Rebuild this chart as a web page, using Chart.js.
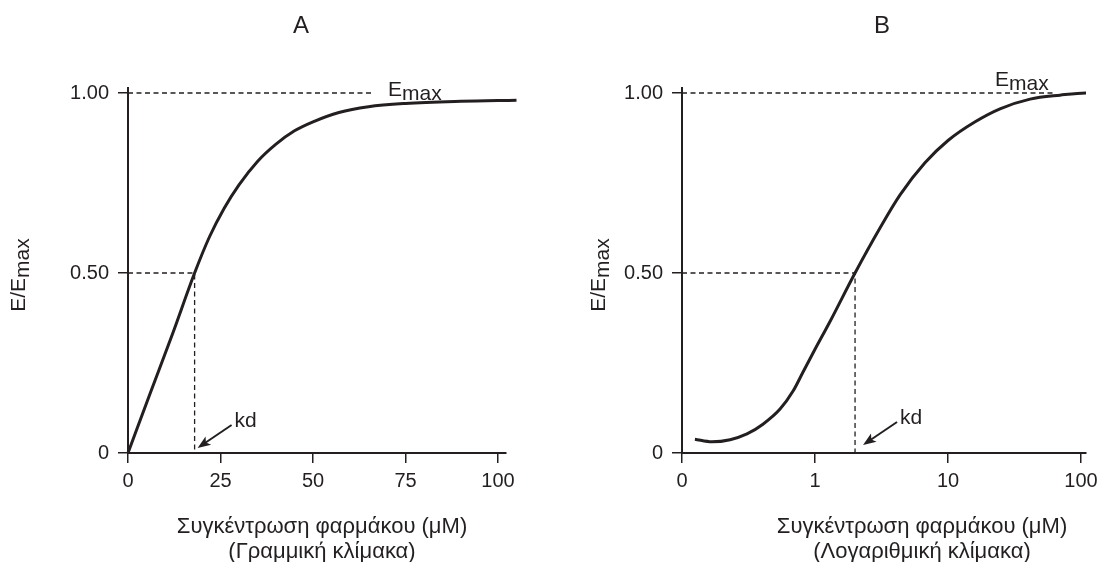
<!DOCTYPE html>
<html>
<head>
<meta charset="utf-8">
<title>E/Emax</title>
<script src="https://cdn.jsdelivr.net/npm/chart.js@4/dist/chart.umd.min.js"></script>
<style>
  html, body { margin: 0; padding: 0; background: #fff; }
  .panel { position: absolute; top: 0; width: 553px; height: 562px; }
  #panel-a { left: 0; }
  #panel-b { left: 553px; }
</style>
</head>
<body>
<div class="panel" id="panel-a"><canvas id="chart-a" width="553" height="562"></canvas></div>
<div class="panel" id="panel-b"><canvas id="chart-b" width="553" height="562"></canvas></div>
<script>
// Panel A: linear concentration scale
const concA = [0, 6, 12, 18, 22, 26, 30, 35, 40, 45, 50, 57, 65, 75, 90, 105];
const effectA = [0, 0.166, 0.33, 0.5, 0.6, 0.68, 0.745, 0.81, 0.858, 0.895, 0.92, 0.946, 0.962, 0.971, 0.977, 0.98];
const xTicksA = [0, 25, 50, 75, 100];
const xLabelsA = ['0', '25', '50', '75', '100'];

// Panel B: log concentration scale (leftmost tick is printed as "0")
const concB = [0.125, 0.168, 0.23, 0.308, 0.406, 0.546, 0.684, 0.813, 1.0, 1.3, 2.0, 3.08, 4.36, 6.71, 10, 16, 24.6, 41.4, 69.5, 109, 155];
const effectB = [0.038, 0.031, 0.037, 0.053, 0.08, 0.122, 0.172, 0.225, 0.288, 0.366, 0.5, 0.625, 0.717, 0.806, 0.868, 0.92, 0.956, 0.983, 0.994, 1.0, 1.0];
const xTicksB = [0.1, 1, 10, 100];
const xLabelsB = ['0', '1', '10', '100'];

const yTicks = [0, 0.5, 1];
const yLabels = ['0', '0.50', '1.00'];
const kdA = 18;
const kdB = 2;

const INK = '#231f20';
const FONT = '"Liberation Sans", Arial, Helvetica, sans-serif';

function drawSub(ctx, main, sub, x, y, align, size) {
  ctx.font = size + 'px ' + FONT;
  const w1 = ctx.measureText(main).width;
  const w2 = ctx.measureText(sub).width;
  let x0 = x;
  if (align === 'center') x0 = x - (w1 + w2) / 2;
  ctx.textAlign = 'left';
  ctx.textBaseline = 'alphabetic';
  ctx.fillText(main, x0, y);
  ctx.fillText(sub, x0 + w1, y + 4);
}

const guides = {
  id: 'guides',
  beforeDatasetsDraw(chart, args, o) {
    const { ctx, scales: { x, y } } = chart;
    const y1 = y.getPixelForValue(1), yh = y.getPixelForValue(0.5), y0 = y.getPixelForValue(0);
    const xk = x.getPixelForValue(o.kd);
    ctx.save();
    ctx.strokeStyle = INK;
    ctx.lineWidth = 1.3;
    ctx.setLineDash([5, 3.5]);
    ctx.beginPath();
    ctx.moveTo(x.left, y1);
    ctx.lineTo(x.left + o.emaxDash, y1);
    ctx.moveTo(x.left, yh);
    ctx.lineTo(xk, yh);
    ctx.lineTo(xk, y0);
    ctx.stroke();
    ctx.restore();
  },
  afterDraw(chart, args, o) {
    const { ctx, scales: { x, y } } = chart;
    const xk = x.getPixelForValue(o.kd);
    const y0 = y.getPixelForValue(0);
    ctx.save();
    ctx.fillStyle = INK;
    ctx.strokeStyle = INK;

    // kd arrow
    const tx = xk + o.tip[0], ty = y0 + o.tip[1];
    const sx = tx + 34, sy = ty - 23;
    const ang = Math.atan2(ty - sy, tx - sx);
    const c = Math.cos(ang), s = Math.sin(ang);
    ctx.lineWidth = 2;
    ctx.beginPath();
    ctx.moveTo(sx, sy);
    ctx.lineTo(tx - 8 * c, ty - 8 * s);
    ctx.stroke();
    ctx.beginPath();
    ctx.moveTo(tx, ty);
    ctx.lineTo(tx - 13 * c + 5 * s, ty - 13 * s - 5 * c);
    ctx.lineTo(tx - 10 * c, ty - 10 * s);
    ctx.lineTo(tx - 13 * c - 5 * s, ty - 13 * s + 5 * c);
    ctx.closePath();
    ctx.fill();
    ctx.font = '21px ' + FONT;
    ctx.textAlign = 'left';
    ctx.textBaseline = 'alphabetic';
    ctx.fillText('kd', sx + 3, sy + 2);

    // Emax label
    drawSub(ctx, 'E', 'max', o.emaxAt[0], o.emaxAt[1], 'left', 21);

    // panel letter
    ctx.font = '24px ' + FONT;
    ctx.textAlign = 'center';
    ctx.fillText(o.letter, o.letterX, 33);

    // x-axis title
    ctx.font = '22px ' + FONT;
    ctx.fillText('Συγκέντρωση φαρμάκου (μΜ)', o.titleX, 533);
    ctx.fillText(o.scaleName, o.titleX, 558);

    // y-axis title
    ctx.translate(o.yTitleX, 275);
    ctx.rotate(-Math.PI / 2);
    drawSub(ctx, 'E/E', 'max', 0, 7, 'center', 21);
    ctx.restore();
  }
};

function axisY(width) {
  return {
    min: 0, max: 1.015,
    afterBuildTicks: (s) => { s.ticks = yTicks.map(v => ({ value: v })); },
    afterFit: (s) => { s.width = width; },
    border: { display: true, color: INK, width: 2 },
    grid: { display: true, drawOnChartArea: false, drawTicks: true, tickLength: 10, color: INK, lineWidth: 1.5 },
    ticks: { color: INK, font: { family: FONT, size: 20 }, padding: 9, callback: (v, i) => yLabels[i] }
  };
}

function axisX(type, min, max, values, labels) {
  return {
    type, min, max,
    afterBuildTicks: (s) => { s.ticks = values.map(v => ({ value: v })); },
    afterFit: (s) => { s.height = 109; },
    border: { display: true, color: INK, width: 2 },
    grid: { display: true, drawOnChartArea: false, drawTicks: true, tickLength: 10, color: INK, lineWidth: 1.5 },
    ticks: { color: INK, font: { family: FONT, size: 20 }, padding: 6, autoSkip: false, maxRotation: 0, callback: (v, i) => labels[i] }
  };
}

function makeChart(id, xs, ys, xScale, yWidth, padRight, opts) {
  return new Chart(document.getElementById(id), {
    type: 'line',
    data: {
      datasets: [{
        data: xs.map((v, i) => ({ x: v, y: ys[i] })),
        borderColor: INK, borderWidth: 3, pointRadius: 0,
        cubicInterpolationMode: 'monotone', clip: false, fill: false
      }]
    },
    options: {
      responsive: false, animation: false, events: [],
      layout: { padding: { top: 87.6, right: padRight, bottom: 0, left: 0 } },
      scales: { x: xScale, y: axisY(yWidth) },
      plugins: { legend: { display: false }, tooltip: { enabled: false }, guides: opts }
    },
    plugins: [guides]
  });
}

makeChart('chart-a', concA, effectA, axisX('linear', 0, 102, xTicksA, xLabelsA), 128, 47.6, {
  kd: kdA, tip: [3, -5], emaxDash: 245, emaxAt: [388, 96],
  letter: 'A', letterX: 301, titleX: 322, scaleName: '(Γραμμική κλίμακα)', yTitleX: 18
});

makeChart('chart-b', concB, effectB, axisX('logarithmic', 0.1, 109, xTicksB, xLabelsB), 129, 20, {
  kd: kdB, tip: [8, -8], emaxDash: 371, emaxAt: [442, 86],
  letter: 'B', letterX: 329, titleX: 369, scaleName: '(Λογαριθμική κλίμακα)', yTitleX: 45
});
</script>
</body>
</html>
